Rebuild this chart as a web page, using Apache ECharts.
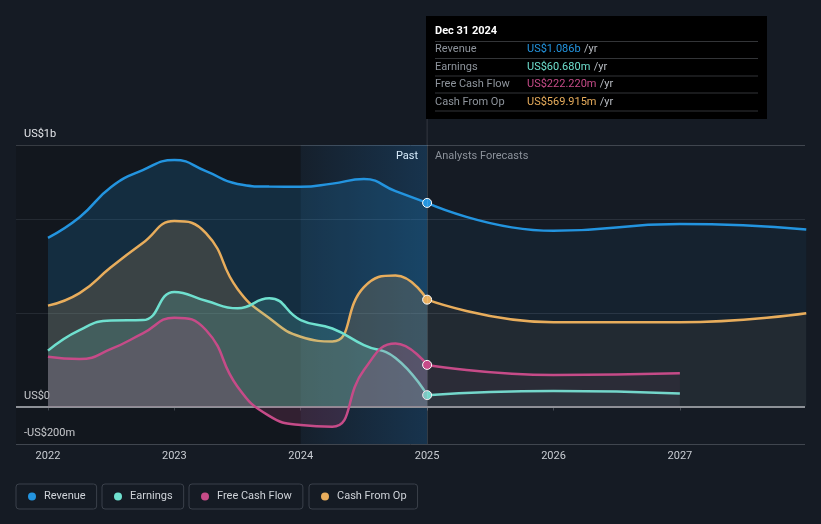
<!DOCTYPE html>
<html><head><meta charset="utf-8">
<script src="https://cdn.jsdelivr.net/npm/echarts@6/dist/echarts.min.js"></script>
<style>html,body{margin:0;padding:0;background:#151b24;}#c{width:821px;height:524px;}</style>
</head><body><div id="c"></div>
<script>
// ---- data (US$ billions) ----
const pastYears = [2022, 2022.25, 2022.5, 2022.75, 2023, 2023.25, 2023.5, 2023.75, 2024, 2024.25, 2024.5, 2024.75, 2025];
const revenuePast  = [0.900, 1.010, 1.171, 1.261, 1.315, 1.256, 1.187, 1.173, 1.172, 1.189, 1.213, 1.149, 1.086];
const earningsPast = [0.298, 0.408, 0.459, 0.461, 0.611, 0.564, 0.524, 0.577, 0.461, 0.416, 0.328, 0.259, 0.0607];
const fcfPast      = [0.266, 0.253, 0.307, 0.390, 0.474, 0.408, 0.106, -0.050, -0.099, -0.108, 0.195, 0.336, 0.222];
const cfoPast      = [0.538, 0.605, 0.744, 0.872, 0.989, 0.925, 0.627, 0.472, 0.372, 0.347, 0.637, 0.699, 0.570];

const revForecastYears = [2025, 2026, 2027, 2028];
const revenueForecast  = [1.086, 0.937, 0.973, 0.944];
const cfoForecastYears = [2025, 2026, 2027, 2028];
const cfoForecast      = [0.570, 0.449, 0.449, 0.497];
const earnForecastYears = [2025, 2026, 2027];
const earningsForecast  = [0.0607, 0.083, 0.070];
const fcfForecastYears  = [2025, 2026, 2027];
const fcfForecast       = [0.222, 0.168, 0.177];

const xTickYears = [2022, 2023, 2024, 2025, 2026, 2027];
const yLabelValues = [-0.2, 0, 1.395];
const yLabelTexts = {'-0.2': '-US$200m', '0': 'US$0', '1.395': 'US$1b'};
const yGridValues = [-0.2, 0, 0.5, 1, 1.395];

const seriesNames = ['Revenue', 'Earnings', 'Free Cash Flow', 'Cash From Op'];
const tooltipDate = 'Dec 31 2024';
const tooltipValues = ['US$1.086b', 'US$60.680m', 'US$222.220m', 'US$569.915m'];

const colors = {'Revenue': '#2394df', 'Earnings': '#6fe0cf', 'Free Cash Flow': '#c64b88', 'Cash From Op': '#e8ad5c'};
const X_MIN = 2021.747, X_MAX = 2027.99, DIVIDE = 2025;

function rgba(hex, a) {
  const n = parseInt(hex.slice(1), 16);
  return 'rgba(' + (n >> 16) + ',' + ((n >> 8) & 255) + ',' + (n & 255) + ',' + a + ')';
}
function mk(name, years, vals, past, z) {
  const c = colors[name];
  const data = years.map((x, i) => {
    const item = {value: [x, vals[i]]};
    if (past && i === years.length - 1) {
      item.symbol = 'circle'; item.symbolSize = 9;
      item.itemStyle = {color: c, borderColor: '#ffffff', borderWidth: 1};
    }
    return item;
  });
  return {
    name: name, type: 'line', data: data, smooth: 0.5, z: z,
    symbol: 'none', showSymbol: true, showAllSymbol: true,
    color: c, itemStyle: {color: c},
    lineStyle: {color: c, width: 2.5},
    areaStyle: {color: rgba(c, past ? 0.26 : 0.09), origin: 0},
    emphasis: {disabled: true}, silent: true
  };
}

const series = [
  mk('Revenue', pastYears, revenuePast, true, 2),
  mk('Revenue', revForecastYears, revenueForecast, false, 2),
  mk('Cash From Op', pastYears, cfoPast, true, 3),
  mk('Cash From Op', cfoForecastYears, cfoForecast, false, 3),
  mk('Earnings', pastYears, earningsPast, true, 4),
  mk('Earnings', earnForecastYears, earningsForecast, false, 4),
  mk('Free Cash Flow', pastYears, fcfPast, true, 5),
  mk('Free Cash Flow', fcfForecastYears, fcfForecast, false, 5)
];
// background bands, zero line and divider
series.push({
  type: 'line', data: [], silent: true, z: 1,
  markArea: {silent: true, data: [
    [{xAxis: X_MIN, itemStyle: {color: 'rgba(0,0,0,0.14)'}}, {xAxis: 2024}],
    [{xAxis: 2024, itemStyle: {color: new echarts.graphic.LinearGradient(0, 0, 1, 0, [
      {offset: 0, color: 'rgba(33,150,243,0.04)'}, {offset: 1, color: 'rgba(33,150,243,0.20)'}])}}, {xAxis: DIVIDE}]
  ]},
  markLine: {silent: true, symbol: 'none', label: {show: false}, data: [
    {xAxis: DIVIDE, lineStyle: {color: 'rgba(255,255,255,0.13)', width: 1, type: 'solid'}},
    {yAxis: 0, lineStyle: {color: '#8d9197', width: 2, type: 'solid'}}
  ]}
});

const legends = seriesNames.map((n, i) => ({
  left: [16, 102, 189, 309][i], top: 484,
  data: [{name: n, icon: 'circle'}],
  itemWidth: 8, itemHeight: 8, itemGap: 0,
  padding: [7, 11, 7, 12],
  borderColor: '#3a404a', borderWidth: 1, borderRadius: 3,
  textStyle: {color: '#cfd3d9', fontSize: 11, fontFamily: 'Roboto', padding: [0, 0, 0, 3]},
  selectedMode: false
}));

const chart = echarts.init(document.getElementById('c'));
chart.setOption({
  backgroundColor: '#151b24',
  animation: false,
  textStyle: {fontFamily: 'Roboto'},
  grid: {left: 16, right: 16, top: 145, bottom: 80, outerBoundsMode: 'none'},
  legend: legends,
  xAxis: {
    type: 'value', min: X_MIN, max: X_MAX,
    axisLine: {show: false},
    splitLine: {show: false},
    axisTick: {show: true, customValues: xTickYears, length: 4, lineStyle: {color: '#464c55'}},
    axisLabel: {customValues: xTickYears, color: '#c9cdd3', fontSize: 11, margin: 7,
      formatter: v => String(Math.round(v))}
  },
  yAxis: {
    type: 'value', min: -0.2, max: 1.395,
    axisLine: {show: false},
    axisTick: {show: false, customValues: yGridValues},
    splitLine: {show: true, lineStyle: {color: ['#40464f', 'rgba(0,0,0,0)', '#2a313b', '#2a313b', '#40464f'], width: 1}},
    axisLabel: {customValues: yLabelValues, inside: true, margin: 8, color: '#e4e6ea', fontSize: 11,
      verticalAlign: 'bottom', padding: [0, 0, 5, 0],
      formatter: v => yLabelTexts[String(Math.round(v * 1000) / 1000)] || ''}
  },
  series: series
});

// decorations positioned from the axes
const px = chart.convertToPixel({gridIndex: 0}, [DIVIDE, 0])[0];
const topY = chart.convertToPixel({gridIndex: 0}, [DIVIDE, 1.395])[1];
const tx = Math.round(px) - 1;
const rowsY = [49.5, 67, 84.5, 102];
const sepY = [41.5, 58.5, 76, 93, 111];
const g = [
  {type: 'line', shape: {x1: px, y1: 119, x2: px, y2: topY}, style: {stroke: 'rgba(255,255,255,0.13)', lineWidth: 1}, silent: true},
  {type: 'rect', shape: {x: tx, y: 16, width: 341, height: 103}, style: {fill: '#000000'}, silent: true},
  {type: 'text', x: tx + 9, y: 31, style: {text: tooltipDate, fill: '#ffffff', font: 'bold 11px Roboto', verticalAlign: 'middle'}, silent: true},
  {type: 'text', x: px - 9, y: 156, style: {text: 'Past', fill: '#ffffff', font: '11px Roboto', align: 'right', verticalAlign: 'middle'}, silent: true},
  {type: 'text', x: px + 8, y: 156, style: {text: 'Analysts Forecasts', fill: '#8c929b', font: '11px Roboto', align: 'left', verticalAlign: 'middle'}, silent: true}
];
sepY.forEach(y => g.push({type: 'line', shape: {x1: tx + 9, y1: y, x2: tx + 332, y2: y}, style: {stroke: '#333538', lineWidth: 1}, silent: true}));
seriesNames.forEach((n, i) => {
  g.push({type: 'text', x: tx + 9, y: rowsY[i], style: {text: n, fill: '#8e949c', font: '11px Roboto', verticalAlign: 'middle'}, silent: true});
  g.push({type: 'text', x: tx + 101, y: rowsY[i], style: {
    text: '{v|' + tooltipValues[i] + '} {u|/yr}', verticalAlign: 'middle',
    rich: {v: {fill: colors[n], font: '11px Roboto'}, u: {fill: '#b8bcc2', font: '11px Roboto'}}}, silent: true});
});
chart.setOption({graphic: g});
</script></body></html>
